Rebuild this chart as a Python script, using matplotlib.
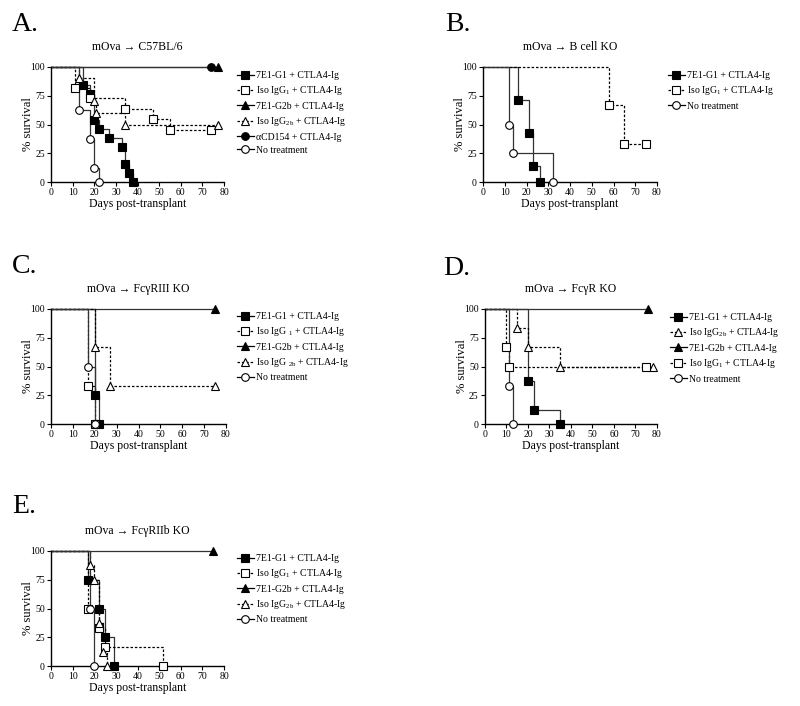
import matplotlib
matplotlib.use('Agg')
import matplotlib.pyplot as plt
from matplotlib.lines import Line2D

plt.rcParams['font.family'] = ['Liberation Serif', 'DejaVu Serif']
plt.rcParams['mathtext.fontset'] = 'custom'
plt.rcParams['mathtext.rm'] = 'Liberation Serif'
plt.rcParams['mathtext.default'] = 'regular'

# ---- data: (days, % survival) for each group ----
# A. mOva -> C57BL/6
a_g1_days = [0, 15, 18, 20, 22, 27, 33, 34, 36, 38]
a_g1_surv = [100, 84.6, 76.9, 53.8, 46.2, 38.5, 30.8, 15.4, 7.7, 0]
a_iso1_days = [0, 11, 18, 34, 47, 55, 74]
a_iso1_surv = [100, 81.8, 72.7, 63.6, 54.5, 45.5, 45.5]
a_g2b_days = [0, 77]
a_g2b_surv = [100, 100]
a_iso2b_days = [0, 13, 20, 21, 34, 77]
a_iso2b_surv = [100, 90, 70, 60, 50, 50]
a_cd154_days = [0, 74]
a_cd154_surv = [100, 100]
a_none_days = [0, 13, 18, 20, 22]
a_none_surv = [100, 62.5, 37.5, 12.5, 0]

# B. mOva -> B cell KO
b_g1_days = [0, 16, 21, 23, 26]
b_g1_surv = [100, 71.4, 42.9, 14.3, 0]
b_iso1_days = [0, 58, 65, 75]
b_iso1_surv = [100, 66.7, 33.3, 33.3]
b_none_days = [0, 12, 14, 32]
b_none_surv = [100, 50, 25, 0]

# C. mOva -> FcgRIII KO
c_g1_days = [0, 20, 22]
c_g1_surv = [100, 25, 0]
c_iso1_days = [0, 17, 20]
c_iso1_surv = [100, 33.3, 0]
c_g2b_days = [0, 75]
c_g2b_surv = [100, 100]
c_iso2b_days = [0, 20, 27, 75]
c_iso2b_surv = [100, 66.7, 33.3, 33.3]
c_none_days = [0, 17, 20]
c_none_surv = [100, 50, 0]

# D. mOva -> FcgR KO
d_g1_days = [0, 20, 23, 35]
d_g1_surv = [100, 37.5, 12.5, 0]
d_iso2b_days = [0, 15, 20, 35, 78]
d_iso2b_surv = [100, 83.3, 66.7, 50, 50]
d_g2b_days = [0, 76]
d_g2b_surv = [100, 100]
d_iso1_days = [0, 10, 11, 75]
d_iso1_surv = [100, 66.7, 50, 50]
d_none_days = [0, 11, 13]
d_none_surv = [100, 33.3, 0]

# E. mOva -> FcgRIIb KO
e_g1_days = [0, 17, 22, 25, 29]
e_g1_surv = [100, 75, 50, 25, 0]
e_iso1_days = [0, 17, 22, 25, 52]
e_iso1_surv = [100, 50, 33.3, 16.7, 0]
e_g2b_days = [0, 75]
e_g2b_surv = [100, 100]
e_iso2b_days = [0, 18, 20, 22, 24, 26]
e_iso2b_surv = [100, 87.5, 75, 37.5, 12.5, 0]
e_none_days = [0, 18, 20]
e_none_surv = [100, 50, 0]

lab_g1 = '7E1-G1 + CTLA4-Ig'
lab_iso1 = 'Iso IgG$_1$ + CTLA4-Ig'
lab_g2b = '7E1-G2b + CTLA4-Ig'
lab_iso2b = 'Iso IgG$_{2b}$ + CTLA4-Ig'
lab_cd154 = 'αCD154 + CTLA4-Ig'
lab_none = 'No treatment'

# marker, face colour, dashed?
styles = {
    'g1': ('s', 'black', False),
    'iso1': ('s', 'white', True),
    'g2b': ('^', 'black', False),
    'iso2b': ('^', 'white', True),
    'cd154': ('o', 'black', False),
    'none': ('o', 'white', False),
}

fig = plt.figure(figsize=(8, 7.06), dpi=100)
W, H = 800, 706


def make_axes(left, top, right, bottom):
    ax = fig.add_axes([left / W, 1 - bottom / H, (right - left) / W, (bottom - top) / H])
    ax.set_xlim(0, 80)
    ax.set_ylim(0, 100)
    ax.set_xticks(range(0, 81, 10))
    ax.set_yticks([0, 25, 50, 75, 100])
    ax.spines['top'].set_visible(False)
    ax.spines['right'].set_visible(False)
    ax.spines['left'].set_linewidth(1)
    ax.spines['bottom'].set_linewidth(1)
    ax.tick_params(direction='out', length=3, width=0.8, labelsize=7, pad=1.5)
    ax.set_ylabel('% survival', fontsize=9, labelpad=-3)
    ax.set_xlabel('Days post-transplant', fontsize=8.5, labelpad=0.5)
    return ax


def km(ax, days, surv, kind):
    marker, fc, dashed = styles[kind]
    ls = (0, (2, 1.5)) if dashed else '-'
    col = 'black' if dashed else '#333333'
    ax.plot(days, surv, drawstyle='steps-post', color=col, lw=0.9, ls=ls, clip_on=False, zorder=2)
    ax.plot(days[1:], surv[1:], ls='none', marker=marker, ms=5.5, mfc=fc, mec='black',
            mew=0.8, clip_on=False, zorder=3)


def handle(kind):
    marker, fc, dashed = styles[kind]
    ls = (0, (2, 1.5)) if dashed else '-'
    return Line2D([], [], color='black', lw=0.9, ls=ls, marker=marker, ms=5.5, mfc=fc, mec='black', mew=0.8)


def add_legend(ax, kinds, labels, x, y):
    ax.legend([handle(k) for k in kinds], labels, loc='upper left',
              bbox_to_anchor=(x / W, 1 - y / H), bbox_transform=fig.transFigure,
              frameon=False, fontsize=7, handlelength=1.7, handletextpad=0.3,
              labelspacing=0.45, borderpad=0, borderaxespad=0)


def panel_text(ax, letter, lx, ly, title):
    fig.text(lx / W, 1 - ly / H, letter, fontsize=20, va='baseline')
    pos = ax.get_position()
    fig.text(pos.x0 + pos.width / 2, pos.y1 + 20 / H, title, fontsize=8.5, ha='center', va='center')


# A
ax = make_axes(51, 67, 224, 182)
km(ax, a_g1_days, a_g1_surv, 'g1')
km(ax, a_iso1_days, a_iso1_surv, 'iso1')
km(ax, a_g2b_days, a_g2b_surv, 'g2b')
km(ax, a_iso2b_days, a_iso2b_surv, 'iso2b')
km(ax, a_cd154_days, a_cd154_surv, 'cd154')
km(ax, a_none_days, a_none_surv, 'none')
panel_text(ax, 'A.', 12, 31, 'mOva → C57BL/6')
add_legend(ax, ['g1', 'iso1', 'g2b', 'iso2b', 'cd154', 'none'],
           [lab_g1, lab_iso1, lab_g2b, lab_iso2b, lab_cd154, lab_none], 237, 71)

# B
ax = make_axes(483, 67, 657, 182)
km(ax, b_g1_days, b_g1_surv, 'g1')
km(ax, b_iso1_days, b_iso1_surv, 'iso1')
km(ax, b_none_days, b_none_surv, 'none')
panel_text(ax, 'B.', 445, 31, 'mOva → B cell KO')
add_legend(ax, ['g1', 'iso1', 'none'], [lab_g1, lab_iso1, lab_none], 668, 71)

# C
ax = make_axes(51, 309, 226, 424)
km(ax, c_g1_days, c_g1_surv, 'g1')
km(ax, c_iso1_days, c_iso1_surv, 'iso1')
km(ax, c_g2b_days, c_g2b_surv, 'g2b')
km(ax, c_iso2b_days, c_iso2b_surv, 'iso2b')
km(ax, c_none_days, c_none_surv, 'none')
panel_text(ax, 'C.', 12, 273, 'mOva → FcγRIII KO')
add_legend(ax, ['g1', 'iso1', 'g2b', 'iso2b', 'none'],
           [lab_g1, 'Iso IgG $_1$ + CTLA4-Ig', lab_g2b, 'Iso IgG $_{2b}$ + CTLA4-Ig', lab_none],
           237, 312)

# D
ax = make_axes(485, 309, 657, 424)
km(ax, d_g1_days, d_g1_surv, 'g1')
km(ax, d_iso2b_days, d_iso2b_surv, 'iso2b')
km(ax, d_g2b_days, d_g2b_surv, 'g2b')
km(ax, d_iso1_days, d_iso1_surv, 'iso1')
km(ax, d_none_days, d_none_surv, 'none')
panel_text(ax, 'D.', 443, 275, 'mOva → FcγR KO')
add_legend(ax, ['g1', 'iso2b', 'g2b', 'iso1', 'none'],
           [lab_g1, lab_iso2b, lab_g2b, lab_iso1, lab_none], 670, 313)

# E
ax = make_axes(51, 551, 224, 666)
km(ax, e_g1_days, e_g1_surv, 'g1')
km(ax, e_iso1_days, e_iso1_surv, 'iso1')
km(ax, e_g2b_days, e_g2b_surv, 'g2b')
km(ax, e_iso2b_days, e_iso2b_surv, 'iso2b')
km(ax, e_none_days, e_none_surv, 'none')
panel_text(ax, 'E.', 12, 513, 'mOva → FcγRIIb KO')
add_legend(ax, ['g1', 'iso1', 'g2b', 'iso2b', 'none'],
           [lab_g1, lab_iso1, lab_g2b, lab_iso2b, lab_none], 237, 554)

fig.savefig('out.png', dpi=100)
